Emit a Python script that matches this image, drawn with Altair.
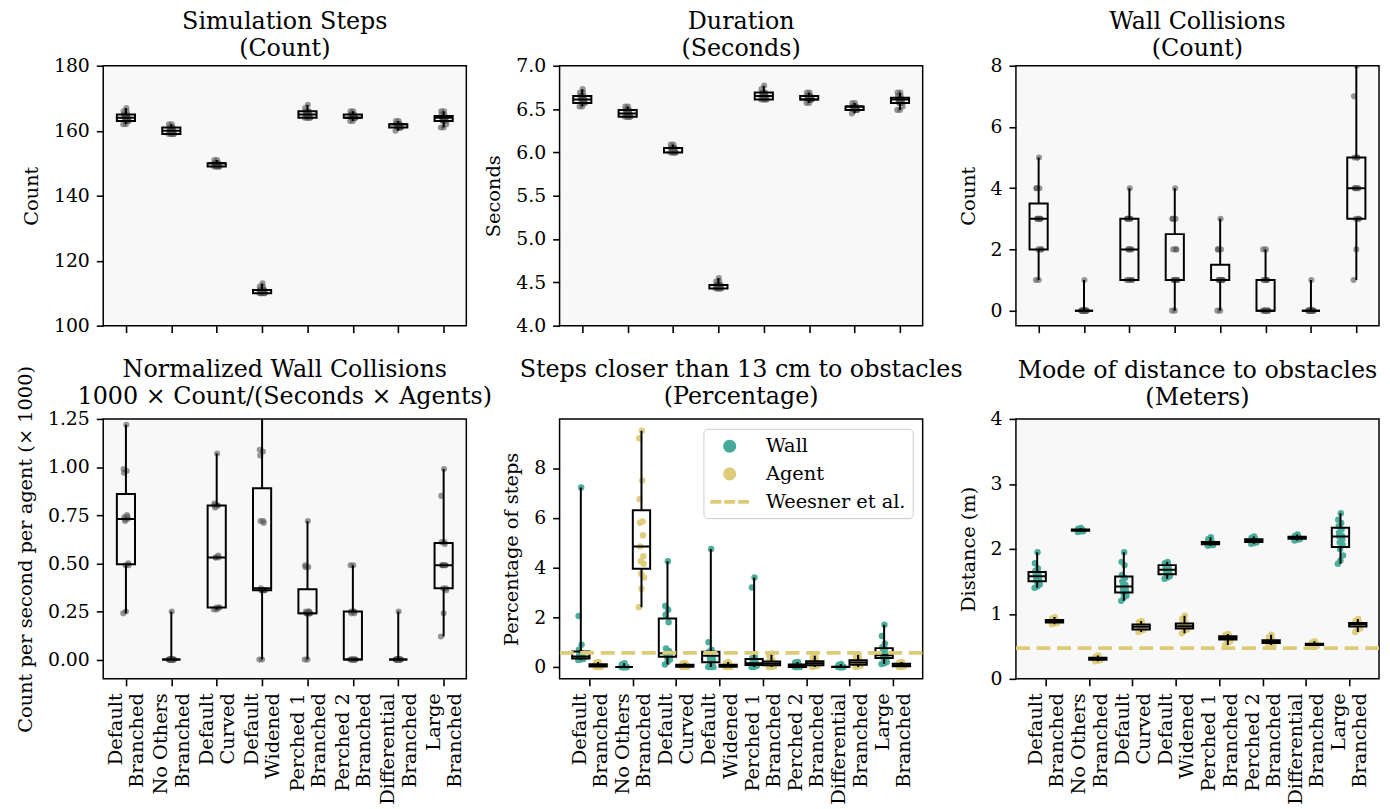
import json
import altair as alt
import pandas as pd

FONT = "DejaVu Serif"
TEAL = "#44AA99"
SAND = "#DDCC77"

# ---- categories (two-line tick labels) ----
cat_lines = [["Default", "Branched"], ["No Others", "Branched"], ["Default", "Curved"],
             ["Default", "Widened"], ["Perched 1", "Branched"], ["Perched 2", "Branched"],
             ["Differential", "Branched"], ["Large", "Branched"]]
# number of 1/6-em spaces appended so that the shorter line sits centred under the longer one
label_pad = [[3, 0], [0, 1], [0, 0], [2, 0], [0, 1], [0, 1], [0, 3], [5, 0]]

# ---- data (15 runs per condition) ----
steps = [
    [162, 162, 163, 163, 163, 164, 164, 164, 164, 165, 165, 165, 166, 166, 167],
    [159, 159, 159, 159, 159, 160, 160, 160, 160, 160, 161, 161, 161, 162, 162],
    [149, 149, 149, 149, 149, 149, 149, 150, 150, 150, 150, 150, 150, 151, 151],
    [110, 110, 110, 110, 110, 110, 111, 111, 111, 111, 111, 111, 112, 112, 113],
    [164, 164, 164, 164, 164, 165, 165, 165, 165, 165, 166, 166, 166, 167, 168],
    [163, 163, 164, 164, 164, 164, 164, 164, 164, 165, 165, 165, 165, 166, 166],
    [160, 161, 161, 161, 161, 161, 161, 162, 162, 162, 162, 162, 162, 163, 163],
    [161, 161, 162, 163, 163, 163, 164, 164, 164, 164, 164, 165, 165, 166, 166],
]
duration = [
    [6.53, 6.53, 6.57, 6.57, 6.57, 6.61, 6.61, 6.61, 6.61, 6.65, 6.65, 6.65, 6.69, 6.69, 6.73],
    [6.41, 6.41, 6.41, 6.41, 6.41, 6.45, 6.45, 6.45, 6.45, 6.45, 6.49, 6.49, 6.49, 6.53, 6.53],
    [6.00, 6.00, 6.00, 6.00, 6.00, 6.00, 6.00, 6.05, 6.05, 6.05, 6.05, 6.05, 6.05, 6.09, 6.09],
    [4.43, 4.43, 4.43, 4.43, 4.43, 4.43, 4.47, 4.47, 4.47, 4.47, 4.47, 4.47, 4.51, 4.51, 4.55],
    [6.61, 6.61, 6.61, 6.61, 6.61, 6.65, 6.65, 6.65, 6.65, 6.65, 6.69, 6.69, 6.69, 6.73, 6.77],
    [6.57, 6.57, 6.61, 6.61, 6.61, 6.61, 6.61, 6.61, 6.61, 6.65, 6.65, 6.65, 6.65, 6.69, 6.69],
    [6.45, 6.49, 6.49, 6.49, 6.49, 6.49, 6.49, 6.53, 6.53, 6.53, 6.53, 6.53, 6.53, 6.57, 6.57],
    [6.49, 6.49, 6.53, 6.57, 6.57, 6.57, 6.61, 6.61, 6.61, 6.61, 6.61, 6.65, 6.65, 6.69, 6.69],
]
wall_collisions = [
    [1, 1, 2, 2, 2, 3, 3, 3, 3, 3, 3, 4, 4, 4, 5],
    [0, 0, 0, 0, 0, 0, 0, 0, 0, 0, 0, 0, 0, 0, 1],
    [1, 1, 1, 1, 1, 2, 2, 2, 2, 3, 3, 3, 3, 3, 4],
    [0, 0, 1, 1, 1, 1, 1, 1, 2, 2, 2, 3, 3, 3, 4],
    [0, 0, 1, 1, 1, 1, 1, 1, 1, 1, 1, 2, 2, 2, 3],
    [0, 0, 0, 0, 0, 0, 0, 0, 1, 1, 1, 1, 1, 2, 2],
    [0, 0, 0, 0, 0, 0, 0, 0, 0, 0, 0, 0, 0, 0, 1],
    [1, 2, 3, 3, 3, 4, 4, 4, 4, 4, 5, 5, 5, 7, 8],
]
norm_collisions = [
    [0.24, 0.25, 0.49, 0.49, 0.50, 0.72, 0.73, 0.73, 0.74, 0.74, 0.75, 0.97, 0.98, 0.99, 1.22],
    [0, 0, 0, 0, 0, 0, 0, 0, 0, 0, 0, 0, 0, 0, 0.25],
    [0.26, 0.26, 0.27, 0.27, 0.27, 0.53, 0.53, 0.53, 0.54, 0.79, 0.80, 0.80, 0.80, 0.81, 1.07],
    [0, 0, 0.36, 0.36, 0.36, 0.36, 0.36, 0.37, 0.71, 0.72, 0.72, 1.06, 1.08, 1.09, 1.45],
    [0, 0, 0.24, 0.24, 0.24, 0.24, 0.24, 0.24, 0.25, 0.25, 0.25, 0.48, 0.48, 0.49, 0.72],
    [0, 0, 0, 0, 0, 0, 0, 0, 0.24, 0.24, 0.25, 0.25, 0.25, 0.49, 0.49],
    [0, 0, 0, 0, 0, 0, 0, 0, 0, 0, 0, 0, 0, 0, 0.25],
    [0.12, 0.24, 0.36, 0.37, 0.37, 0.49, 0.49, 0.49, 0.49, 0.49, 0.60, 0.61, 0.61, 0.85, 0.99],
]
close_wall = [
    [0.28, 0.30, 0.32, 0.33, 0.35, 0.38, 0.40, 0.42, 0.45, 0.50, 0.55, 0.70, 0.90, 2.05, 7.22],
    [0, 0, 0, 0, 0, 0, 0, 0, 0, 0, 0, 0, 0.05, 0.10, 0.15],
    [0.10, 0.20, 0.30, 0.40, 0.42, 0.45, 0.50, 0.55, 0.65, 0.75, 1.80, 2.10, 2.30, 2.45, 4.25],
    [0, 0, 0, 0.15, 0.23, 0.30, 0.35, 0.45, 0.50, 0.55, 0.60, 0.62, 0.70, 1.00, 4.75],
    [0, 0, 0.05, 0.08, 0.08, 0.10, 0.12, 0.15, 0.18, 0.20, 0.30, 0.35, 0.40, 3.20, 3.60],
    [0, 0, 0, 0, 0.01, 0.02, 0.03, 0.04, 0.05, 0.06, 0.08, 0.12, 0.15, 0.18, 0.20],
    [0, 0, 0, 0, 0, 0, 0, 0, 0, 0, 0, 0.02, 0.05, 0.08, 0.12],
    [0.12, 0.15, 0.20, 0.35, 0.38, 0.40, 0.45, 0.47, 0.50, 0.60, 0.72, 0.80, 0.95, 1.25, 1.70],
]
close_agent = [
    [0, 0, 0, 0.02, 0.03, 0.04, 0.05, 0.05, 0.06, 0.08, 0.10, 0.12, 0.14, 0.18, 0.20],
    [2.40, 3.15, 3.60, 3.75, 4.15, 4.25, 4.45, 4.85, 5.30, 5.80, 5.85, 6.75, 7.50, 9.20, 9.50],
    [0, 0, 0, 0.01, 0.02, 0.03, 0.04, 0.05, 0.05, 0.06, 0.08, 0.10, 0.12, 0.14, 0.15],
    [0, 0, 0, 0.01, 0.02, 0.03, 0.03, 0.04, 0.05, 0.06, 0.08, 0.10, 0.12, 0.15, 0.20],
    [0, 0, 0.03, 0.06, 0.08, 0.10, 0.12, 0.14, 0.16, 0.18, 0.20, 0.25, 0.30, 0.45, 0.55],
    [0, 0.02, 0.05, 0.07, 0.08, 0.10, 0.12, 0.15, 0.17, 0.20, 0.22, 0.25, 0.30, 0.38, 0.45],
    [0, 0.02, 0.05, 0.08, 0.10, 0.12, 0.15, 0.18, 0.20, 0.22, 0.25, 0.30, 0.35, 0.40, 0.50],
    [0, 0, 0.02, 0.03, 0.04, 0.05, 0.06, 0.07, 0.08, 0.10, 0.12, 0.15, 0.16, 0.18, 0.20],
]
mode_wall = [
    [1.40, 1.42, 1.45, 1.50, 1.50, 1.53, 1.55, 1.58, 1.60, 1.60, 1.63, 1.66, 1.70, 1.78, 1.95],
    [2.26, 2.27, 2.27, 2.28, 2.28, 2.28, 2.29, 2.29, 2.29, 2.29, 2.30, 2.30, 2.30, 2.31, 2.32],
    [1.20, 1.25, 1.28, 1.32, 1.34, 1.38, 1.40, 1.42, 1.45, 1.50, 1.55, 1.60, 1.75, 1.80, 1.95],
    [1.54, 1.56, 1.58, 1.60, 1.62, 1.64, 1.66, 1.68, 1.70, 1.72, 1.74, 1.76, 1.77, 1.78, 1.80],
    [2.05, 2.06, 2.06, 2.07, 2.07, 2.08, 2.08, 2.09, 2.09, 2.10, 2.10, 2.11, 2.12, 2.15, 2.18],
    [2.08, 2.09, 2.10, 2.10, 2.11, 2.12, 2.13, 2.13, 2.14, 2.14, 2.15, 2.15, 2.16, 2.17, 2.19],
    [2.13, 2.14, 2.15, 2.15, 2.16, 2.16, 2.17, 2.17, 2.17, 2.18, 2.18, 2.19, 2.19, 2.20, 2.22],
    [1.77, 1.82, 1.90, 2.00, 2.06, 2.10, 2.15, 2.19, 2.20, 2.25, 2.30, 2.35, 2.40, 2.45, 2.55],
]
mode_agent = [
    [0.84, 0.85, 0.86, 0.86, 0.87, 0.88, 0.88, 0.89, 0.89, 0.90, 0.90, 0.91, 0.91, 0.93, 0.95],
    [0.27, 0.28, 0.29, 0.29, 0.30, 0.30, 0.31, 0.31, 0.31, 0.32, 0.32, 0.33, 0.33, 0.34, 0.36],
    [0.72, 0.74, 0.76, 0.76, 0.76, 0.78, 0.79, 0.80, 0.81, 0.82, 0.83, 0.84, 0.85, 0.87, 0.89],
    [0.70, 0.74, 0.76, 0.77, 0.78, 0.79, 0.80, 0.81, 0.82, 0.83, 0.84, 0.86, 0.88, 0.92, 0.97],
    [0.52, 0.56, 0.58, 0.60, 0.61, 0.62, 0.63, 0.63, 0.64, 0.64, 0.65, 0.66, 0.67, 0.68, 0.69],
    [0.52, 0.53, 0.54, 0.55, 0.55, 0.56, 0.57, 0.57, 0.58, 0.58, 0.59, 0.60, 0.61, 0.64, 0.68],
    [0.50, 0.51, 0.51, 0.52, 0.52, 0.52, 0.53, 0.53, 0.53, 0.54, 0.54, 0.54, 0.55, 0.56, 0.58],
    [0.72, 0.76, 0.78, 0.80, 0.81, 0.82, 0.83, 0.84, 0.84, 0.85, 0.86, 0.86, 0.87, 0.89, 0.92],
]
weesner_pct = [0.57]
weesner_dist = [0.474]

LEG_KEYS = ["Wall", "Agent", "Weesner et al."]
# legend symbols (unit = half the 21px symbol box); the dashed handle runs from -1 to 2.71,
# circles are centred on it
CIRC = "M1.475,0A0.62,0.62,0,1,1,0.235,0A0.62,0.62,0,1,1,1.475,0Z"
DASH = ("M-1,-0.18H0.048V0.18H-1Z M0.333,-0.18H1.381V0.18H0.333Z "
        "M1.667,-0.18H2.71V0.18H1.667Z")

SP = "\u2006"
padded = [[ln + SP * n for ln, n in zip(pair, pads)] for pair, pads in zip(cat_lines, label_pad)]
LABEL_EXPR = json.dumps(padded) + "[datum.value]"

FS = 19.5
FS_TICK = 19


def frame(series, group=None, offset=0.0):
    rows = []
    for ci, vals in enumerate(series):
        for i, v in enumerate(vals):
            rows.append({"cat": ci, "pos": ci + offset, "group": group or "all", "value": v, "i": i})
    return rows


def panel(rows, title, ytitle, ydomain, yticks, yfmt, xdomain, show_labels,
          colored=False, ref=None, legend=False, title_dy=0):
    df = pd.DataFrame(rows)
    base = alt.Chart(df)
    xs = alt.Scale(domain=xdomain, nice=False, zero=False)
    ys = alt.Scale(domain=ydomain, nice=False, zero=False)
    xaxis = alt.Axis(values=list(range(8)), labelExpr=LABEL_EXPR, labelAngle=-90,
                     labels=show_labels, title=None, labelLineHeight=21.5, labelOverlap=False,
                     labelFlush=False, labelPadding=7, labelOffset=-10.5, labelFontSize=FS)
    yaxis = alt.Axis(values=yticks, format=yfmt, title=ytitle, labelFlush=False,
                     labelOverlap=False)

    pts_base = base.transform_calculate(
        jx="datum.pos + ((datum.i * 37) % 15 / 14 - 0.5) * 0.12")
    if colored:
        pts = pts_base.mark_circle(size=42, opacity=0.95, clip=True).encode(
            x=alt.X("jx:Q", scale=xs, axis=xaxis),
            y=alt.Y("value:Q", scale=ys, axis=yaxis),
            fill=alt.Fill("group:N", scale=alt.Scale(domain=["Wall", "Agent"], range=[TEAL, SAND]),
                          legend=None),
        )
    else:
        pts = pts_base.mark_circle(size=38, opacity=0.6, color="#555555", clip=True).encode(
            x=alt.X("jx:Q", scale=xs, axis=xaxis),
            y=alt.Y("value:Q", scale=ys, axis=yaxis),
        )

    stats = base.transform_aggregate(
        q1="q1(value)", q3="q3(value)", med="median(value)", lo="min(value)", hi="max(value)",
        groupby=["pos"],
    ).transform_calculate(xl="datum.pos - 0.2", xr="datum.pos + 0.2")

    whisk_lo = stats.mark_rule(color="black", strokeWidth=2, clip=True).encode(
        x=alt.X("pos:Q", scale=xs), y=alt.Y("lo:Q", scale=ys), y2="q1:Q")
    whisk_hi = stats.mark_rule(color="black", strokeWidth=2, clip=True).encode(
        x=alt.X("pos:Q", scale=xs), y=alt.Y("q3:Q", scale=ys), y2="hi:Q")
    box = stats.mark_rect(fillOpacity=0, stroke="black", strokeWidth=2, clip=True).encode(
        x=alt.X("xl:Q", scale=xs), x2="xr:Q", y=alt.Y("q1:Q", scale=ys), y2="q3:Q")
    med = stats.mark_rule(color="black", strokeWidth=2, clip=True).encode(
        x=alt.X("xl:Q", scale=xs), x2="xr:Q", y=alt.Y("med:Q", scale=ys))

    layers = [pts, whisk_lo, whisk_hi, box, med]
    if ref is not None:
        rl = alt.Chart(pd.DataFrame({"y": ref})).mark_rule(
            color=SAND, strokeWidth=3.75, strokeDash=[14, 6.7], clip=True).encode(
            y=alt.Y("y:Q", scale=ys))
        layers.append(rl)
    if legend:
        leg = alt.Legend(title=None, orient="top-right", offset=10, padding=7,
                         fillColor="rgba(255,255,255,0.8)", strokeColor="#cccccc",
                         cornerRadius=4, labelFont=FONT, labelFontSize=FS, labelColor="black",
                         labelOffset=35, symbolSize=441, symbolStrokeWidth=0, rowPadding=8,
                         symbolOpacity=1)
        ldf = pd.DataFrame({"key": LEG_KEYS})
        ll = alt.Chart(ldf).transform_filter("datum.key == 'none'").mark_point(
            filled=True, opacity=1, size=441).encode(
            color=alt.Color("key:N", scale=alt.Scale(domain=LEG_KEYS, range=[TEAL, SAND, SAND]),
                            legend=leg),
            shape=alt.Shape("key:N", scale=alt.Scale(domain=LEG_KEYS, range=[CIRC, CIRC, DASH]),
                            legend=leg),
        )
        layers.append(ll)

    ch = alt.layer(*layers).properties(
        width=366, height=262,
        title=alt.TitleParams(text=title, font=FONT, fontSize=24, fontWeight="normal",
                              color="black", offset=-4, lineHeight=27.5, frame="group",
                              dy=title_dy),
    )
    return ch


X8 = [-0.5, 7.5]
X16 = [-0.69, 7.69]

p1 = panel(frame(steps), ["Simulation Steps", "(Count)"], "Count", [100, 180],
           [100, 120, 140, 160, 180], "d", X8, False)
p2 = panel(frame(duration), ["Duration", "(Seconds)"], "Seconds", [4, 7],
           [4.0, 4.5, 5.0, 5.5, 6.0, 6.5, 7.0], ".1f", X8, False)
p3 = panel(frame(wall_collisions), ["Wall Collisions", "(Count)"], "Count", [-0.49, 8],
           [0, 2, 4, 6, 8], "d", X8, False)
p4 = panel(frame(norm_collisions),
           ["Normalized Wall Collisions", "1000 × Count/(Seconds × Agents)"],
           "Count per second per agent (× 1000)", [-0.1, 1.25],
           [0, 0.25, 0.5, 0.75, 1.0, 1.25], ".2f", X8, True, title_dy=40)
p5 = panel(frame(close_wall, "Wall", -0.2) + frame(close_agent, "Agent", 0.2),
           ["Steps closer than 13 cm to obstacles", "(Percentage)"], "Percentage of steps",
           [-0.475, 9.975], [0, 2, 4, 6, 8], "d", X16, True, colored=True,
           ref=weesner_pct, legend=True, title_dy=-14)
p6 = panel(frame(mode_wall, "Wall", -0.2) + frame(mode_agent, "Agent", 0.2),
           ["Mode of distance to obstacles", "(Meters)"], "Distance (m)",
           [0, 4], [0, 1, 2, 3, 4], "d", X16, True, colored=True, ref=weesner_dist,
           title_dy=-4)

chart = alt.concat(p1, p2, p3, p4, p5, p6, columns=3, spacing=94, bounds="flush").properties(
    padding={"left": 6, "top": -3, "right": 2, "bottom": 0},
    background="white",
).resolve_scale(
    x="independent", y="independent", color="independent", fill="independent",
    shape="independent",
).configure_view(
    fill="#f8f8f8", stroke="black", strokeWidth=1.5,
).configure_axis(
    domain=False, grid=False, tickColor="black", tickWidth=1.6, tickSize=7,
    labelFont=FONT, labelFontSize=FS_TICK, labelColor="black", labelPadding=7,
    titleFont=FONT, titleFontSize=FS, titleFontWeight="normal", titleColor="black",
    titlePadding=12,
)

chart.save("out.html", embed_options={"renderer": "svg", "actions": False})
